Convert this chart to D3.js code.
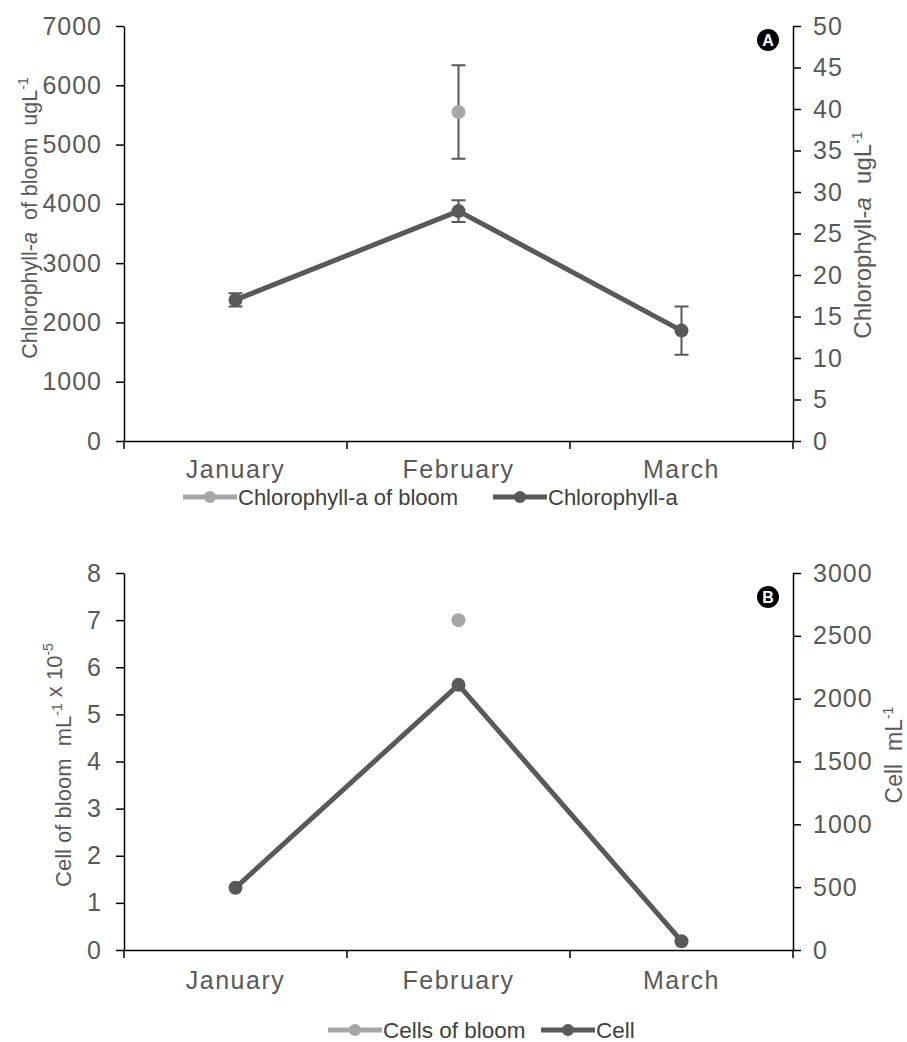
<!DOCTYPE html>
<html>
<head>
<meta charset="utf-8">
<script src="https://cdn.jsdelivr.net/npm/d3@7"></script>
<style>
  body { margin: 0; background: #fff; }
  svg text { font-family: "Liberation Sans", Arial, sans-serif; white-space: pre; }
</style>
</head>
<body>
<div id="vis"></div>
<script>
const FRAME_WIDTH = 907;
const FRAME_HEIGHT = 1042;

// data
const months = ["January", "February", "March"];

// panel A
const chlBloom = [null, 5550, null];      // left axis, ug/L
const chlBloomErr = [null, 790, null];
const chl = [17.0, 27.7, 13.3];           // right axis, ug/L
const chlErr = [0.8, 1.3, 2.9];
const ticksA_left = [0, 1000, 2000, 3000, 4000, 5000, 6000, 7000];
const ticksA_right = [0, 5, 10, 15, 20, 25, 30, 35, 40, 45, 50];

// panel B
const cellBloom = [null, 7.0, null];      // left axis, x10^-5
const cell = [495, 2110, 70];             // right axis, cells/mL
const ticksB_left = [0, 1, 2, 3, 4, 5, 6, 7, 8];
const ticksB_right = [0, 500, 1000, 1500, 2000, 2500, 3000];

const DARK = "#595959";
const LIGHT = "#a6a6a6";
const TEXT = "#595959";

const FRAME = d3.select("#vis")
  .append("svg")
    .attr("width", FRAME_WIDTH)
    .attr("height", FRAME_HEIGHT);

function drawPanel(p) {
  const g = FRAME.append("g");

  const X = d3.scaleBand().domain(months).range([p.left, p.right]);
  const YL = d3.scaleLinear().domain([0, d3.max(p.leftTicks)]).range([p.bottom, p.top]);
  const YR = d3.scaleLinear().domain([0, d3.max(p.rightTicks)]).range([p.bottom, p.top]);
  const fmt = d3.format("d");

  // left axis
  const la = g.append("g")
      .attr("transform", "translate(" + p.left + ",0)")
      .call(d3.axisLeft(YL).tickValues(p.leftTicks).tickFormat(fmt)
              .tickSize(8).tickSizeOuter(0).tickPadding(14));
  // right axis
  const ra = g.append("g")
      .attr("transform", "translate(" + p.right + ",0)")
      .call(d3.axisRight(YR).tickValues(p.rightTicks).tickFormat(fmt)
              .tickSize(8).tickSizeOuter(0).tickPadding(12));
  // bottom axis, ticks at the band edges
  const xa = g.append("g")
      .attr("transform", "translate(0," + p.bottom + ")")
      .call(d3.axisBottom(X).tickSize(0).tickSizeOuter(0).tickPadding(p.xPad));
  const edges = months.map(m => X(m)).concat([p.right]);
  xa.selectAll(".edge")
    .data(edges)
    .enter()
    .append("line")
      .attr("x1", d => d).attr("x2", d => d)
      .attr("y1", 0).attr("y2", 8)
      .attr("stroke", "#000").attr("stroke-width", 1.5);

  [la, ra, xa].forEach(a => {
    a.select(".domain").attr("stroke", "#000").attr("stroke-width", 1.5);
    a.selectAll(".tick line").attr("stroke", "#000").attr("stroke-width", 1.5);
    a.selectAll("text")
      .attr("font-size", "25px")
      .attr("fill", TEXT)
      .attr("letter-spacing", "1px")
      .attr("font-family", "Liberation Sans, Arial, sans-serif");
  });
  xa.selectAll("text").attr("letter-spacing", "1.5px");

  // axis titles
  const lt = g.append("text")
      .attr("transform", "translate(" + p.leftTitleX + "," + p.leftTitleY + ") rotate(-90)")
      .attr("text-anchor", "middle")
      .attr("font-size", p.leftTitleSize)
      .attr("fill", TEXT);
  p.leftTitle(lt);
  const rt = g.append("text")
      .attr("transform", "translate(" + p.rightTitleX + "," + p.rightTitleY + ") rotate(-90)")
      .attr("text-anchor", "middle")
      .attr("font-size", p.rightTitleSize)
      .attr("fill", TEXT);
  p.rightTitle(rt);

  const cx = m => X(m) + X.bandwidth() / 2;

  // bloom series (light, left axis) and main series (dark, right axis)
  const bloom = months.map((m, i) => ({m: m, v: p.bloom[i], e: p.bloomErr ? p.bloomErr[i] : null}))
    .filter(d => d.v != null);
  const main = months.map((m, i) => ({m: m, v: p.main[i], e: p.mainErr ? p.mainErr[i] : null}));

  const errs = bloom.map(d => ({m: d.m, lo: YL(d.v - d.e), hi: YL(d.v + d.e), e: d.e}))
    .concat(main.map(d => ({m: d.m, lo: YR(d.v - d.e), hi: YR(d.v + d.e), e: d.e})))
    .filter(d => d.e != null);

  g.selectAll(".err")
    .data(errs)
    .enter()
    .append("path")
      .attr("d", d => "M" + cx(d.m) + "," + d.lo + "V" + d.hi +
                      "M" + (cx(d.m) - 7) + "," + d.lo + "h14" +
                      "M" + (cx(d.m) - 7) + "," + d.hi + "h14")
      .attr("stroke", DARK).attr("stroke-width", 2).attr("fill", "none");

  g.append("path")
    .datum(main)
    .attr("d", d3.line().x(d => cx(d.m)).y(d => YR(d.v)))
    .attr("stroke", DARK).attr("stroke-width", 5).attr("fill", "none")
    .attr("stroke-linejoin", "round");

  g.selectAll(".mainpt")
    .data(main)
    .enter()
    .append("circle")
      .attr("cx", d => cx(d.m)).attr("cy", d => YR(d.v))
      .attr("r", 7).attr("fill", DARK);

  g.selectAll(".bloompt")
    .data(bloom)
    .enter()
    .append("circle")
      .attr("cx", d => cx(d.m)).attr("cy", d => YL(d.v))
      .attr("r", 7).attr("fill", LIGHT);

  // panel badge
  g.append("circle").attr("cx", p.badgeX).attr("cy", p.badgeY).attr("r", 11).attr("fill", "#000");
  g.append("text").attr("x", p.badgeX).attr("y", p.badgeY + 6)
    .attr("text-anchor", "middle").attr("font-size", "16px").attr("font-weight", "bold")
    .attr("fill", "#fff").text(p.badge);

  // legend
  const lg = g.append("g").attr("transform", "translate(0," + p.legendY + ")");
  p.legend.forEach(it => {
    lg.append("line").attr("x1", it.x).attr("x2", it.x + 54).attr("y1", 0).attr("y2", 0)
      .attr("stroke", it.color).attr("stroke-width", 5);
    lg.append("circle").attr("cx", it.x + 27).attr("cy", 0).attr("r", 6).attr("fill", it.color);
    lg.append("text").attr("x", it.x + 55).attr("y", 8)
      .attr("font-family", "Lato, 'Liberation Sans', sans-serif")
      .attr("font-size", p.legendSize).attr("fill", "#404040").text(it.label);
  });
}

function sup(t, s) {
  t.append("tspan").attr("font-size", "14px").attr("dy", -9).text(s);
  t.append("tspan").attr("dy", 9).text("");
}

drawPanel({
  left: 124, right: 793, top: 26, bottom: 441, xPad: 19,
  leftTicks: ticksA_left, rightTicks: ticksA_right,
  bloom: chlBloom, bloomErr: chlBloomErr, main: chl, mainErr: chlErr,
  leftTitleX: 37, leftTitleY: 218, leftTitleSize: "21.5px",
  leftTitle: t => {
    t.append("tspan").text("Chlorophyll-");
    t.append("tspan").attr("font-style", "italic").text("a");
    t.append("tspan").text("  of bloom  ugL");
    sup(t, "-1");
  },
  rightTitleX: 871, rightTitleY: 235, rightTitleSize: "24px",
  rightTitle: t => {
    t.append("tspan").text("Chlorophyll-");
    t.append("tspan").attr("font-style", "italic").text("a");
    t.append("tspan").text("  ugL");
    sup(t, "-1");
  },
  badge: "A", badgeX: 768, badgeY: 40,
  legendY: 497, legendSize: "22px",
  legend: [
    {x: 183, color: LIGHT, label: "Chlorophyll-a of bloom"},
    {x: 493, color: DARK, label: "Chlorophyll-a"}
  ]
});

drawPanel({
  left: 124, right: 793, top: 573, bottom: 950, xPad: 21,
  leftTicks: ticksB_left, rightTicks: ticksB_right,
  bloom: cellBloom, bloomErr: null, main: cell, mainErr: null,
  leftTitleX: 71, leftTitleY: 765, leftTitleSize: "22px",
  leftTitle: t => {
    t.append("tspan").text("Cell of bloom  mL");
    sup(t, "-1");
    t.append("tspan").text(" x 10");
    sup(t, "-5");
  },
  rightTitleX: 902, rightTitleY: 755, rightTitleSize: "23px",
  rightTitle: t => {
    t.append("tspan").text("Cell  mL");
    sup(t, "-1");
  },
  badge: "B", badgeX: 768, badgeY: 597,
  legendY: 1030, legendSize: "22.5px",
  legend: [
    {x: 328, color: LIGHT, label: "Cells of bloom"},
    {x: 541, color: DARK, label: "Cell"}
  ]
});
</script>
</body>
</html>
